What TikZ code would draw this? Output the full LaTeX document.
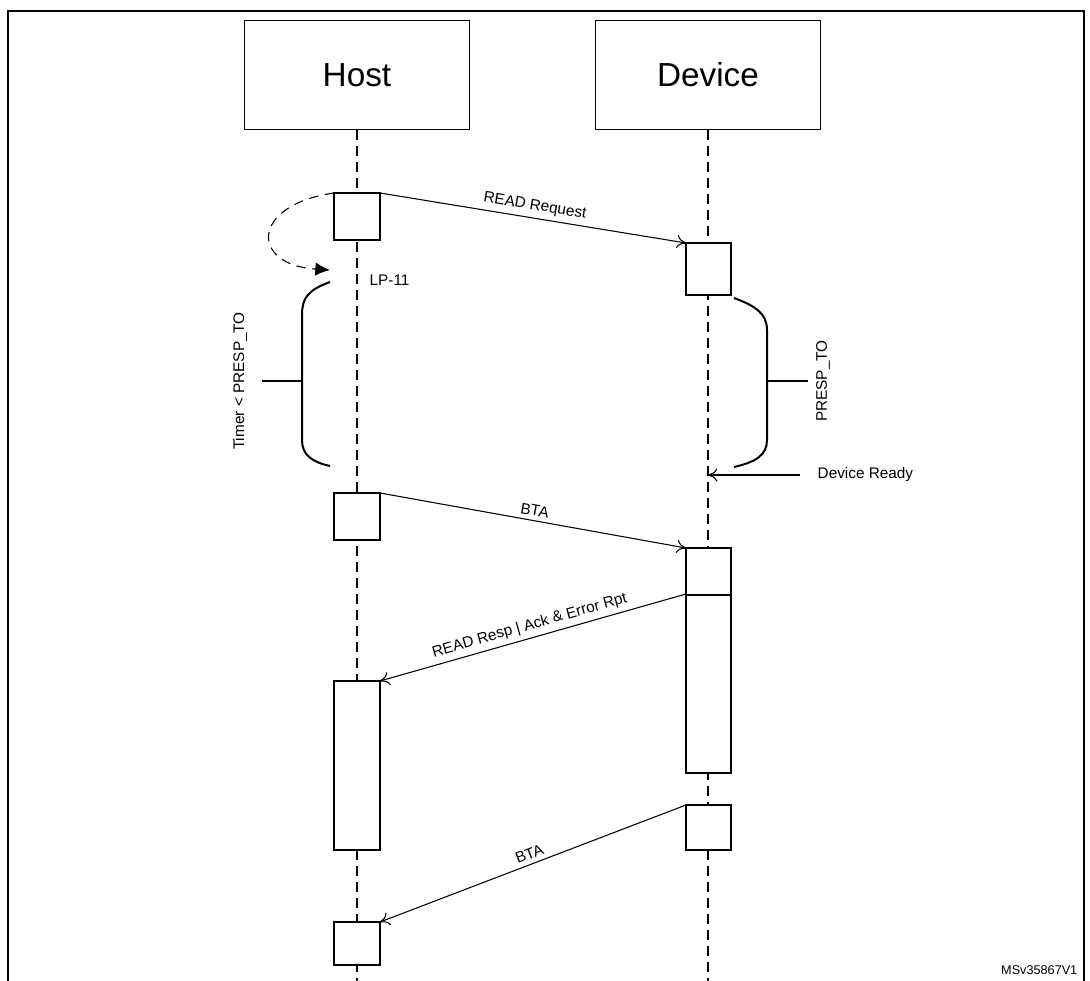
\documentclass[tikz,border=0pt]{standalone}
\usepackage{fontspec}
\setmainfont{Liberation Sans}
\usetikzlibrary{arrows.meta}
\begin{document}
\begin{tikzpicture}[x=0.75pt,y=-0.75pt,
  actor/.style={draw,line width=0.8pt,minimum width=169pt,minimum height=82pt,font=\fontsize{25}{28}\selectfont},
  act/.style={draw,fill=white,line width=0.8pt},
  life/.style={dashed,dash pattern=on 7pt off 5pt,line width=0.8pt},
  msg/.style={line width=0.8pt,-{To[length=7pt,width=10pt]}},
  lbl/.style={font=\fontsize{11.5}{13}\selectfont,sloped,above},
  txt/.style={font=\fontsize{11.5}{13}\selectfont},
  brace/.style={line width=1.5pt}]
\useasboundingbox (0,0) rectangle (1090,981);
\draw[line width=1pt] (8,11) rectangle (1084,985);
\node[actor] (host) at (357,75) {Host};
\node[actor] (dev) at (708,75) {Device};
\coordinate (hb) at (357,981); \coordinate (db) at (708,981);
\draw[life] (host.south) -- (hb);
\draw[life] (dev.south) -- (db);
% activations
\draw[act] (334,193) rectangle (380,240);
\draw[act] (686,243) rectangle (731,295);
\draw[act] (334,493) rectangle (380,540);
\draw[act] (686,548) rectangle (731,773);
\draw[line width=0.8pt] (686,595) -- (731,595);
\draw[act] (334,681) rectangle (380,850);
\draw[act] (686,805) rectangle (731,850);
\draw[act] (334,922) rectangle (380,965);
\coordinate (a1) at (380,193); \coordinate (b1) at (686,243);
\draw[msg] (a1) -- node[lbl]{READ Request} (b1);
\coordinate (a2) at (380,493); \coordinate (b2) at (686,548);
\draw[msg] (a2) -- node[lbl]{BTA} (b2);
\coordinate (a3) at (686,594); \coordinate (b3) at (380,681);
\draw[msg] (a3) -- node[lbl]{READ Resp | Ack \& Error Rpt} (b3);
\coordinate (a4) at (686,805); \coordinate (b4) at (380,922);
\draw[msg] (a4) -- node[lbl]{BTA} (b4);
% loop
\coordinate (l1) at (334,193); \coordinate (l2) at (330,270);
\draw[line width=0.8pt,dash pattern=on 7pt off 5pt,-{Latex[length=11pt,width=10pt]}] (l1) .. controls (250,205) and (250,265) .. (l2);
\node[txt,anchor=west] (lp) at (365,280) {LP-11};
% left brace
\draw[brace] (330,282) .. controls (308,290) and (302,298) .. (302,315) -- (302,440) .. controls (302,455) and (312,462) .. (330,466);
\draw[brace] (262,381) -- (302,381);
\node[txt,rotate=90] (tm) at (240,381) {Timer < PRESP\_TO};
% right brace
\draw[brace] (734,298) .. controls (756,306) and (767,314) .. (767,330) -- (767,440) .. controls (767,455) and (756,462) .. (734,467);
\draw[brace] (767,381) -- (808,381);
\node[txt,rotate=90] (pt) at (823,381) {PRESP\_TO};
% device ready
\node[txt,anchor=west] (dr) at (813,475) {Device Ready};
\coordinate (dr2) at (708,475);
\draw[msg] (800,475) -- (dr2);
\node[font=\fontsize{9.5}{11}\selectfont,anchor=south east] (id) at (1082,979) {MSv35867V1};
\end{tikzpicture}
\end{document}
